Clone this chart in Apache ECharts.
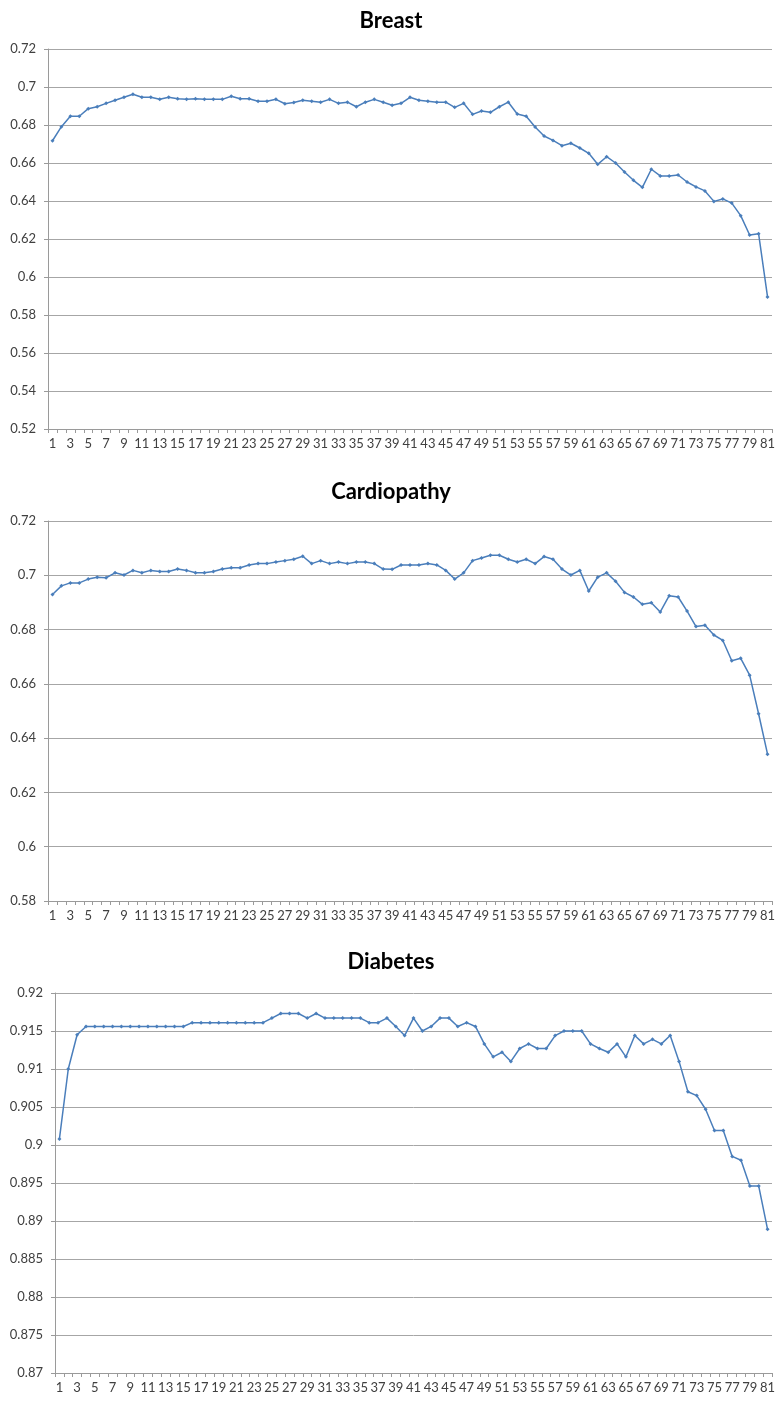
<!DOCTYPE html>
<html>
<head>
<meta charset="utf-8">
<script src="https://cdn.jsdelivr.net/npm/echarts@6/dist/echarts.min.js"></script>
<style>
html,body{margin:0;padding:0;background:#fff;}
#chart{width:782px;height:1409px;}
</style>
</head>
<body>
<div id="chart"></div>
<script>
const categories = Array.from({length: 81}, (_, i) => String(i + 1));

const titles = ['Breast', 'Cardiopathy', 'Diabetes'];

const breast = [
  0.6717, 0.6791, 0.6846, 0.6846, 0.6886, 0.6896, 0.6914, 0.6930, 0.6946, 0.6962,
  0.6946, 0.6946, 0.6935, 0.6946, 0.6938, 0.6935, 0.6938, 0.6935, 0.6935, 0.6935,
  0.6951, 0.6938, 0.6938, 0.6925, 0.6925, 0.6935, 0.6912, 0.6918, 0.6930, 0.6925,
  0.6920, 0.6935, 0.6914, 0.6920, 0.6896, 0.6920, 0.6935, 0.6920, 0.6904, 0.6914,
  0.6946, 0.6930, 0.6925, 0.6920, 0.6920, 0.6893, 0.6914, 0.6856, 0.6874, 0.6867,
  0.6896, 0.6920, 0.6858, 0.6846, 0.6789, 0.6742, 0.6719, 0.6691, 0.6704, 0.6679,
  0.6651, 0.6593, 0.6633, 0.6600, 0.6553, 0.6509, 0.6472, 0.6567, 0.6532, 0.6532,
  0.6537, 0.6500, 0.6474, 0.6453, 0.6398, 0.6411, 0.6389, 0.6323, 0.6221, 0.6228,
  0.5895
];

const cardiopathy = [
  0.6929, 0.6961, 0.6972, 0.6972, 0.6986, 0.6993, 0.6991, 0.7009, 0.7001, 0.7018,
  0.7009, 0.7018, 0.7014, 0.7014, 0.7023, 0.7018, 0.7009, 0.7009, 0.7014, 0.7023,
  0.7028, 0.7028, 0.7038, 0.7043, 0.7043, 0.7049, 0.7054, 0.7059, 0.7070, 0.7043,
  0.7054, 0.7043, 0.7049, 0.7043, 0.7049, 0.7049, 0.7043, 0.7023, 0.7022, 0.7038,
  0.7038, 0.7038, 0.7043, 0.7038, 0.7018, 0.6986, 0.7009, 0.7054, 0.7064, 0.7074,
  0.7074, 0.7059, 0.7049, 0.7059, 0.7043, 0.7069, 0.7059, 0.7023, 0.7001, 0.7018,
  0.6942, 0.6993, 0.7009, 0.6978, 0.6937, 0.6920, 0.6893, 0.6899, 0.6865, 0.6925,
  0.6920, 0.6868, 0.6811, 0.6816, 0.6780, 0.6760, 0.6685, 0.6694, 0.6632, 0.6490,
  0.6341
];

const diabetes = [
  0.9008, 0.9100, 0.9145, 0.9156, 0.9156, 0.9156, 0.9156, 0.9156, 0.9156, 0.9156,
  0.9156, 0.9156, 0.9156, 0.9156, 0.9156, 0.9161, 0.9161, 0.9161, 0.9161, 0.9161,
  0.9161, 0.9161, 0.9161, 0.9161, 0.9167, 0.9173, 0.9173, 0.9173, 0.9167, 0.9173,
  0.9167, 0.9167, 0.9167, 0.9167, 0.9167, 0.9161, 0.9161, 0.9167, 0.9156, 0.9144,
  0.9167, 0.9150, 0.9156, 0.9167, 0.9167, 0.9156, 0.9161, 0.9156, 0.9133, 0.9116,
  0.9122, 0.9110, 0.9127, 0.9133, 0.9127, 0.9127, 0.9144, 0.9150, 0.9150, 0.9150,
  0.9133, 0.9127, 0.9122, 0.9133, 0.9116, 0.9144, 0.9133, 0.9139, 0.9133, 0.9144,
  0.9110, 0.9070, 0.9065, 0.9047, 0.9019, 0.9019, 0.8985, 0.8980, 0.8946, 0.8946,
  0.8889
];

const seriesData = [breast, cardiopathy, diabetes];
const yMin = [0.52, 0.58, 0.87];
const yMax = [0.72, 0.72, 0.92];
const yStep = [0.02, 0.02, 0.005];

const FONT = 'Lato, "Open Sans", sans-serif';
const gridTops = [49, 521, 993];
const gridLefts = [48, 48, 55];
const titleTops = [5, 476, 946];
const GRID_H = 380;
const lineColor = '#4a7ebb';
const axisGray = '#9a9a9a';

const option = {
  backgroundColor: '#ffffff',
  animation: false,
  title: titles.map((t, i) => ({
    text: t,
    left: 'center',
    top: titleTops[i],
    textStyle: {fontFamily: FONT, fontWeight: 'bold', fontSize: 22, color: '#000'}
  })),
  grid: gridTops.map((top, i) => ({
    left: gridLefts[i], right: 10, top: top, height: GRID_H, containLabel: false
  })),
  xAxis: seriesData.map((_, i) => ({
    type: 'category',
    gridIndex: i,
    data: categories,
    boundaryGap: true,
    axisLine: {show: true, lineStyle: {color: axisGray, width: 1}},
    axisTick: {show: true, interval: 0, length: 4, lineStyle: {color: axisGray}},
    axisLabel: {interval: 1, margin: 8, fontFamily: FONT, fontSize: 13, color: '#404040'},
    splitLine: {show: false}
  })),
  yAxis: seriesData.map((_, i) => ({
    type: 'value',
    gridIndex: i,
    min: yMin[i],
    max: yMax[i],
    interval: yStep[i],
    axisLine: {show: true, lineStyle: {color: axisGray, width: 1}},
    axisTick: {show: true, length: 4, lineStyle: {color: axisGray}},
    axisLabel: {margin: 12, fontFamily: FONT, fontSize: 13, color: '#404040',
      formatter: v => String(parseFloat(v.toFixed(4)))},
    splitLine: {show: true, lineStyle: {color: '#a6a6a6', width: 1}}
  })),
  series: seriesData.map((d, i) => ({
    type: 'line',
    xAxisIndex: i,
    yAxisIndex: i,
    data: d,
    symbol: 'diamond',
    symbolSize: 4,
    showSymbol: true,
    lineStyle: {color: lineColor, width: 1.5},
    itemStyle: {color: lineColor, borderWidth: 0}
  }))
};

const chart = echarts.init(document.getElementById('chart'), null, {renderer: 'canvas'});
chart.setOption(option);
</script>
</body>
</html>
